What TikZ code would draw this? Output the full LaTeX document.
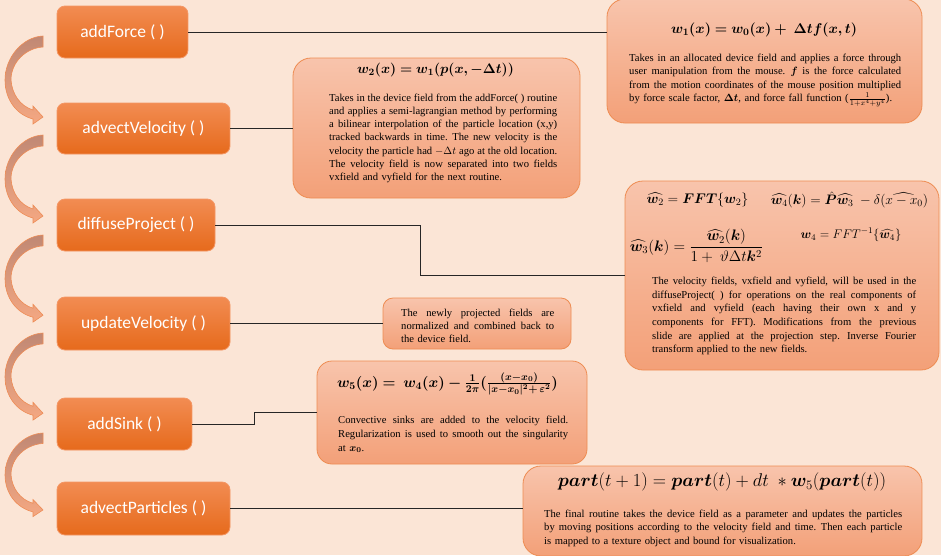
\RequirePackage{fix-cm}
\documentclass[tikz,border=0pt]{standalone}
\usepackage[no-math]{fontspec}
\setmainfont{Liberation Serif}
\newfontfamily\calib{Carlito}
\usepackage{amsmath,bm}
\definecolor{bg}{RGB}{251,229,214}
\definecolor{ortop}{RGB}{242,140,82}
\definecolor{orbot}{RGB}{230,106,28}
\definecolor{orline}{RGB}{244,150,100}
\definecolor{sltop}{RGB}{248,196,172}
\definecolor{slbot}{RGB}{243,160,120}
\definecolor{slline}{RGB}{238,140,82}
\definecolor{artop}{RGB}{192,136,116}
\definecolor{arbot}{RGB}{245,168,130}
\definecolor{arline}{RGB}{238,140,85}
\newcommand\JL[1]{{\spaceskip=0.25em plus 3em minus 0.05em\xspaceskip=0.3em plus 3em minus 0.05em\makebox[\hsize][s]{#1}}}
\newcommand\curvarr[2]{%
\shadedraw[top color=artop, bottom color=arbot, draw=arline, line width=0.6pt, shift={(0,#1)}, yscale=#2]
 (43,0) .. controls (22,1) and (5,22) .. (5,44) .. controls (5,64) and (17,79) .. (33,83)
 -- (33,88) -- (43,81) -- (33,70) -- (33,74)
 .. controls (20,70) and (12,58) .. (11,44) .. controls (11,26) and (26,12) .. (43,11) -- cycle;}
\tikzset{
 fn/.style={draw=orline, line width=0.8pt, rounded corners=8pt, top color=ortop, bottom color=orbot,
   text=white, font=\calib\fontsize{17.5}{20}\selectfont, inner sep=0pt},
 note/.style={draw=slline, line width=0.8pt, top color=sltop, bottom color=slbot, inner sep=0pt},
 para/.style={anchor=north west, inner sep=0pt, align=left, font=\fontsize{10.6}{13.3}\selectfont},
 eq/.style={inner sep=0pt, font=\fontsize{14}{16}\selectfont},
 link/.style={draw=black!85, line width=0.8pt},
}
\begin{document}
\begin{tikzpicture}[x=1pt,y=-1pt]
\fill[bg] (0,0) rectangle (941,555);
\useasboundingbox (0,0) rectangle (941,555);

% curved arrows
\curvarr{36}{1}
\curvarr{135}{1}
\curvarr{235}{0.99}
\curvarr{333}{0.99}
\curvarr{433}{0.95}

% routine boxes
\node[fn, minimum width=131pt, minimum height=52pt] (af) at (122.5,32) {addForce ( )};
\node[fn, minimum width=173pt, minimum height=51pt] (av) at (143.5,128.5) {advectVelocity ( )};
\node[fn, minimum width=158pt, minimum height=52pt] (dp) at (136,225) {diffuseProject ( )};
\node[fn, minimum width=173pt, minimum height=53pt] (uv) at (143.5,323.5) {updateVelocity ( )};
\node[fn, minimum width=135pt, minimum height=52pt] (as) at (124.5,424) {addSink ( )};
\node[fn, minimum width=173pt, minimum height=53pt] (ap) at (143.5,508.5) {advectParticles ( )};

% note boxes
\node[note, rounded corners=18pt, minimum width=315pt, minimum height=124pt] (b1) at (764.5,61) {};
\node[note, rounded corners=18pt, minimum width=287pt, minimum height=140pt] (b2) at (436.5,128) {};
\node[note, rounded corners=18pt, minimum width=314pt, minimum height=189pt] (b3) at (782,275.5) {};
\node[note, rounded corners=10pt, minimum width=188pt, minimum height=51pt] (b4) at (477,323.5) {};
\node[note, rounded corners=15pt, minimum width=270pt, minimum height=103pt] (b5) at (452,412.5) {};
\node[note, rounded corners=18pt, minimum width=399pt, minimum height=90pt] (b6) at (722.5,511) {};

% connectors
\draw[link] (af.east) -- (af.east -| b1.west);
\draw[link] (av.east) -- (av.east -| b2.west);
\draw[link] (dp.east) -- ++(205,0) |- (b3.west);
\draw[link] (uv.east) -- (uv.east -| b4.west);
\draw[link] (as.east) -- ++(62,0) |- (b5.west);
\draw[link] (ap.east) -- (ap.east -| b6.west);

% box 1
\node[eq, font=\fontsize{14.2}{16}\selectfont] (e1) at (764,30) {$\bm{w_1(x) = w_0(x) +\ \Delta t f(x,t)}$};
\node[para, text width=272pt] (p1) at (629,54) {%
\JL{Takes in an allocated device field and applies a force through}\\
\JL{user manipulation from the mouse. $\bm f$ is the force calculated}\\
\JL{from the motion coordinates of the mouse position multiplied}\\
by force scale factor, $\bm{\Delta t}$, and force fall function ($\frac{1}{1+x^4+y^4}$).};

% box 2
\node[eq, font=\fontsize{13.9}{16}\selectfont] (e2) at (435.5,70) {$\bm{w_2(x) = w_1(p(x,-\Delta t))}$};
\node[para, text width=228pt, font=\fontsize{10.6}{13.1}\selectfont] (p2) at (329,94) {%
\JL{Takes in the device field from the addForce( ) routine}\\
\JL{and applies a semi-lagrangian method by performing}\\
\JL{a bilinear interpolation of the particle location (x,y)}\\
\JL{tracked backwards in time. The new velocity is the}\\
\JL{velocity the particle had $-\Delta t$ ago at the old location.}\\
\JL{The velocity field is now separated into two fields}\\
vxfield and vyfield for the next routine.};

% box 3
\node[eq, font=\fontsize{14}{16}\selectfont] (e3a) at (697.5,200) {$\widehat{\bm{w}_2} = \bm{FFT}\{\bm{w}_2\}$};
\node[eq, font=\fontsize{13.7}{16}\selectfont] (e3b) at (849.5,200) {$\widehat{\bm{w}_4}(\bm{k}) = \hat{\bm{P}}\widehat{\bm{w}_3}\ - \delta(\widehat{x-x_0})$};
\node[eq, font=\fontsize{15.2}{17}\selectfont] (e3c) at (696.5,246) {$\widehat{\bm{w}_3}(\bm{k}) = \dfrac{\widehat{\bm{w}_2}(\bm{k})}{1+\ \vartheta\Delta t\bm{k}^2}$};
\node[eq, font=\fontsize{12.5}{14}\selectfont] (e3d) at (851,235) {$\bm{w}_4 = FFT^{-1}\{\widehat{\bm{w}_4}\}$};
\node[para, text width=264pt, font=\fontsize{10.6}{13.6}\selectfont] (p3) at (652,277) {%
\JL{The velocity fields, vxfield and vyfield, will be used in the}\\
\JL{diffuseProject( ) for operations on the real components of}\\
\JL{vxfield and vyfield (each having their own x and y}\\
\JL{components for FFT). Modifications from the previous}\\
\JL{slide are applied at the projection step. Inverse Fourier}\\
transform applied to the new fields.};

% box 4
\node[para, text width=153pt, font=\fontsize{10.6}{13}\selectfont] (p4) at (401,309) {%
\JL{The newly projected fields are}\\
\JL{normalized and combined back to}\\
the device field.};

% box 5
\node[eq, font=\fontsize{14.8}{16}\selectfont] (e5) at (447.5,384) {$\bm{w_5(x) =\ w_4(x) -} \bm{\frac{1}{2\pi}(\frac{(x-x_0)}{|x-x_0|^2+\,\varepsilon^2})}$};
\node[para, text width=230pt, font=\fontsize{10.6}{13.7}\selectfont] (p5) at (338,416) {%
\JL{Convective sinks are added to the velocity field.}\\
\JL{Regularization is used to smooth out the singularity}\\
at $\bm{x_0}$.};

% box 6
\node[eq, font=\fontsize{18.4}{21}\selectfont] (e6) at (722,482) {$\bm{part}(t+1) = \bm{part}(t) + dt\ * \bm{w}_5(\bm{part}(t))$};
\node[para, text width=358pt] (p6) at (544,510) {%
\JL{The final routine takes the device field as a parameter and updates the particles}\\
\JL{by moving positions according to the velocity field and time. Then each particle}\\
is mapped to a texture object and bound for visualization.};
\end{tikzpicture}
\end{document}
